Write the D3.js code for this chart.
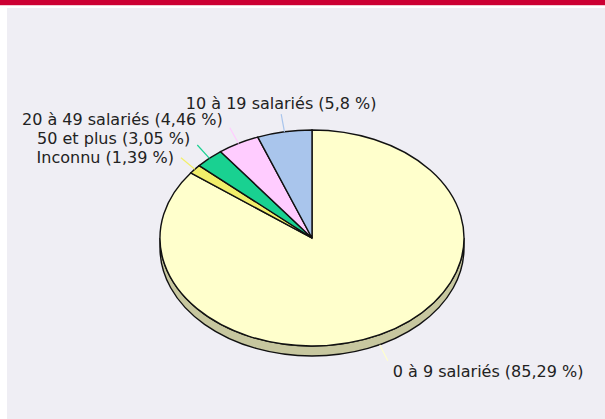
<!DOCTYPE html>
<html>
<head>
<meta charset="utf-8">
<script src="https://cdn.jsdelivr.net/npm/d3@7"></script>
<style>
  body { margin: 0; background: #fff; }
  svg { display: block; }
</style>
</head>
<body>
<div id="chart"></div>
<script>
// data
var categories = ['0 à 9 salariés', 'Inconnu', '50 et plus', '20 à 49 salariés', '10 à 19 salariés']
var values = [85.29, 1.39, 3.05, 4.46, 5.8]
var colors = ['#ffffcc', '#f2ef6a', '#19d191', '#ffccff', '#a9c5ec']

var width = 605, height = 419
var cx = 312, cy = 238, rx = 152, ry = 108, depth = 10

var svg = d3.select('#chart').append('svg')
    .attr('width', width)
    .attr('height', height)

// frame
svg.append('rect').attr('x', 0).attr('y', 0).attr('width', width).attr('height', 5).attr('fill', '#cc0033')
svg.append('rect').attr('x', 0).attr('y', 5).attr('width', width).attr('height', 1).attr('fill', '#f3c9d3')
svg.append('rect').attr('x', 7).attr('y', 8).attr('width', width - 7).attr('height', height - 8).attr('fill', '#efeef4')

var pie = d3.pie().sort(null).startAngle(0).endAngle(2 * Math.PI)
var arcs = pie(values)

function pt(a, kx, ky, dy) {
    return [cx + kx * Math.sin(a), cy - ky * Math.cos(a) + (dy || 0)]
}

// side of the pie (front half only)
var sides = svg.append('g')
arcs.forEach(function (d, i) {
    var a = Math.max(d.startAngle, Math.PI / 2)
    var b = Math.min(d.endAngle, 3 * Math.PI / 2)
    if (b <= a) return
    var p = d3.path()
    var p1 = pt(a, rx, ry), p2 = pt(b, rx, ry)
    var big = (b - a) > Math.PI ? 1 : 0
    p.moveTo(p1[0], p1[1])
    var s = 'M' + p1 + 'A' + rx + ',' + ry + ' 0 ' + big + ' 1 ' + p2 +
        'L' + p2[0] + ',' + (p2[1] + depth) +
        'A' + rx + ',' + ry + ' 0 ' + big + ' 0 ' + p1[0] + ',' + (p1[1] + depth) + 'Z'
    sides.append('path')
        .attr('d', s)
        .attr('fill', d3.color(colors[i]).darker(0.7))
        .attr('stroke', '#111')
        .attr('stroke-width', 1.4)
})

// top faces
var arc = d3.arc().innerRadius(0).outerRadius(ry)
svg.append('g')
    .attr('transform', 'translate(' + cx + ',' + cy + ') scale(' + (rx / ry) + ',1)')
    .selectAll('path')
    .data(arcs)
    .enter()
    .append('path')
    .attr('d', arc)
    .attr('fill', function (d, i) { return colors[i] })
    .attr('stroke', '#111')
    .attr('stroke-width', 1.4)
    .attr('vector-effect', 'non-scaling-stroke')

// labels
var labels = arcs.map(function (d, i) {
    var m = (d.startAngle + d.endAngle) / 2
    var lower = Math.cos(m) < 0
    var dy = lower ? depth : 0
    var p0 = pt(m, rx, ry, dy)
    var p1 = pt(m, rx + 18, ry + 18, dy)
    var l = { i: i, m: m, p0: p0, p1: p1,
        text: categories[i] + ' (' + String(values[i]).replace('.', ',') + ' %)' }
    if (Math.cos(m) > 0.95) {
        l.anchor = 'middle'; l.x = p1[0]; l.y = p1[1] - 5
    } else if (lower) {
        l.anchor = Math.sin(m) < 0 ? 'end' : 'start'
        l.x = p1[0] + (Math.sin(m) < 0 ? -5 : 5); l.y = p1[1] + 16
    } else {
        l.anchor = Math.sin(m) < 0 ? 'end' : 'start'
        l.x = p1[0] + (Math.sin(m) < 0 ? -7 : 7); l.y = p1[1] + 5
    }
    return l
})

// keep left labels apart
var left = labels.filter(function (l) { return l.anchor === 'end' })
    .sort(function (a, b) { return b.y - a.y })
for (var k = 1; k < left.length; k++) {
    left[k].y = Math.min(left[k].y, left[k - 1].y - 19)
}

var g = svg.append('g')
g.selectAll('line')
    .data(labels)
    .enter()
    .append('line')
    .attr('x1', function (l) { return l.p0[0] })
    .attr('y1', function (l) { return l.p0[1] })
    .attr('x2', function (l) { return l.p1[0] })
    .attr('y2', function (l) { return l.p1[1] })
    .attr('stroke', function (l) { return colors[l.i] })
    .attr('stroke-width', 1.2)

g.selectAll('text')
    .data(labels)
    .enter()
    .append('text')
    .attr('x', function (l) { return l.x })
    .attr('y', function (l) { return l.y })
    .attr('text-anchor', function (l) { return l.anchor })
    .attr('font-family', 'DejaVu Sans, sans-serif')
    .attr('font-size', 16)
    .attr('fill', '#222')
    .text(function (l) { return l.text })
</script>
</body>
</html>
